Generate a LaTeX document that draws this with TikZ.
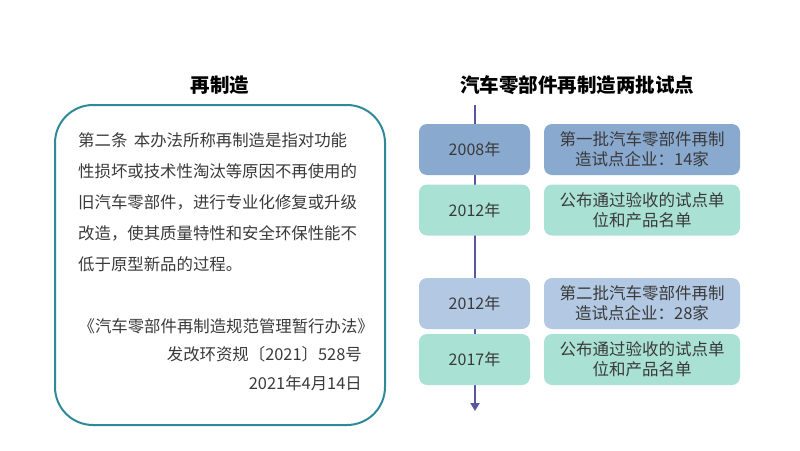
\documentclass[tikz,border=0pt]{standalone}
\usepackage{fontspec}
\newfontfamily\cjk{Noto Sans CJK SC}
\usetikzlibrary{arrows.meta}
\definecolor{txt}{HTML}{3A3A3A}
\definecolor{bA}{HTML}{89A9CF}
\definecolor{bT}{HTML}{A9E1D5}
\definecolor{bB}{HTML}{B3C9E3}
\definecolor{ln}{HTML}{58569F}
\definecolor{frame}{HTML}{2E8A99}
\begin{document}
\begin{tikzpicture}[x=1pt,y=-1pt,
  yearbox/.style={rounded corners=8pt,minimum width=111pt,minimum height=51pt,inner sep=0pt,text=txt,font=\cjk\fontsize{16}{20}\selectfont},
  descbox/.style={rounded corners=8pt,minimum width=196pt,minimum height=51pt,inner sep=0pt,text=txt,align=center,font=\cjk\fontsize{16.5}{20}\selectfont},
  ttl/.style={font=\cjk\bfseries\fontsize{19.5}{22}\selectfont,text=black},
  body/.style={anchor=west,font=\cjk\fontsize{16.4}{19}\selectfont,text=txt,inner sep=0pt},
  quote/.style={anchor=east,font=\cjk\fontsize{16.4}{19}\selectfont,text=txt,inner sep=0pt}]
\useasboundingbox (0,0) rectangle (800,450);
\node[ttl] (t1) at (220,85) {再制造};
\node[ttl] (t2) at (577,85) {汽车零部件再制造两批试点};
\draw[frame,line width=2pt,rounded corners=38pt] (55,105) rectangle (385,425);
\node[body] (l1) at (78,140) {第二条\hspace{0.4em}本办法所称再制造是指对功能};
\node[body] (l2) at (78,171) {性损坏或技术性淘汰等原因不再使用的};
\node[body] (l3) at (78,202) {旧汽车零部件，进行专业化修复或升级};
\node[body] (l4) at (78,233) {改造，使其质量特性和安全环保性能不};
\node[body] (l5) at (78,264) {低于原型新品的过程。};
\node[quote] (q1) at (374,326) {《汽车零部件再制造规范管理暂行办法》};
\node[quote] (q2) at (362,354) {发改环资规〔2021〕528号};
\node[quote] (q3) at (362,383) {2021年4月14日};
\coordinate (s) at (475,105);
\coordinate (e) at (475,411);
\draw[ln,line width=2pt,-{Triangle[length=8pt,width=9pt]}] (s) -- (e);
\node[yearbox,fill=bA] (y1) at (474.5,149.5) {2008年};
\node[yearbox,fill=bT] (y2) at (474.5,210) {2012年};
\node[yearbox,fill=bB] (y3) at (474.5,303.5) {2012年};
\node[yearbox,fill=bT] (y4) at (474.5,359.5) {2017年};
\node[descbox,fill=bA] (d1) at (642,149.5) {第一批汽车零部件再制\\造试点企业：14家};
\node[descbox,fill=bT] (d2) at (642,210) {公布通过验收的试点单\\位和产品名单};
\node[descbox,fill=bB] (d3) at (642,303.5) {第二批汽车零部件再制\\造试点企业：28家};
\node[descbox,fill=bT] (d4) at (642,359.5) {公布通过验收的试点单\\位和产品名单};
\end{tikzpicture}
\end{document}
